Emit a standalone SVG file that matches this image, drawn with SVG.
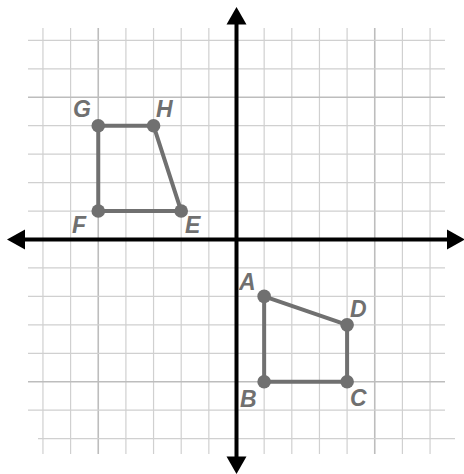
<svg xmlns="http://www.w3.org/2000/svg" width="464" height="474" viewBox="0 0 464 474">
<style>
.g{stroke:#d0d0d0;stroke-width:1.2;fill:none}
.gd{stroke:#bdbdbd;stroke-width:1.6;fill:none}
.ax{stroke:#000;stroke-width:4;fill:none}
.ah{fill:#000}
.sh{stroke:#707070;stroke-width:4;fill:none;stroke-linejoin:round}
.pt{fill:#707070}
.lb{font-family:"Liberation Sans",Arial,sans-serif;font-size:23px;font-weight:bold;font-style:italic;fill:#707070}
</style>
<rect width="464" height="474" fill="#fff"/>
<g id="grid">
<path class="g" d="M42.95 28V454M70.6 28V454M125.9 28V454M153.55 28V454M181.2 28V454M208.85 28V454M264.15 28V454M291.8 28V454M319.45 28V454M347.1 28V454M402.4 28V454M430.05 28V454"/>
<path class="gd" d="M98.25 28V454M374.75 28V454"/>
<path class="g" d="M28 40.35H445M28 68.8H445M28 125.7H445M28 154.15H445M28 182.6H445M28 211.05H445M28 267.95H445M28 296.4H445M28 324.85H445M28 353.3H445M28 410.2H445M38 438.65H455"/>
<path class="gd" d="M28 97.25H445M28 381.75H445"/>
</g>
<g id="axes">
<path class="ax" d="M20 239.5H450M236.5 20V460"/>
<polygon class="ah" points="7,239.5 25,229.5 25,249.5"/>
<polygon class="ah" points="465,239.5 447,229.5 447,249.5"/>
<polygon class="ah" points="236.5,7 226.5,24.5 246.5,24.5"/>
<polygon class="ah" points="236.5,474 226.5,456.5 246.5,456.5"/>
</g>
<g id="connectors">
<polygon class="sh" points="264.15,296.4 264.15,381.75 347.1,381.75 347.1,324.85"/>
<polygon class="sh" points="181.2,211.05 98.25,211.05 98.25,125.7 153.55,125.7"/>
</g>
<g id="A"><circle class="pt" cx="264.15" cy="296.4" r="6.8"/><text class="lb" x="239" y="290">A</text></g>
<g id="B"><circle class="pt" cx="264.15" cy="381.75" r="6.8"/><text class="lb" x="240" y="406.5">B</text></g>
<g id="C"><circle class="pt" cx="347.1" cy="381.75" r="6.8"/><text class="lb" x="350" y="406">C</text></g>
<g id="D"><circle class="pt" cx="347.1" cy="324.85" r="6.8"/><text class="lb" x="350" y="317">D</text></g>
<g id="E"><circle class="pt" cx="181.2" cy="211.05" r="6.8"/><text class="lb" x="185" y="233">E</text></g>
<g id="F"><circle class="pt" cx="98.25" cy="211.05" r="6.8"/><text class="lb" x="72" y="233">F</text></g>
<g id="G"><circle class="pt" cx="98.25" cy="125.7" r="6.8"/><text class="lb" x="73" y="117">G</text></g>
<g id="H"><circle class="pt" cx="153.55" cy="125.7" r="6.8"/><text class="lb" x="156" y="117">H</text></g>
</svg>
